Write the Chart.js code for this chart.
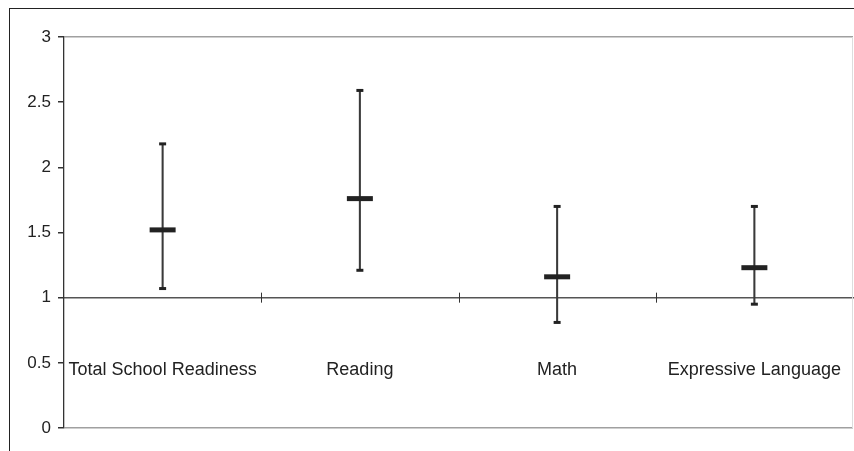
<!DOCTYPE html>
<html>
<head>
<meta charset="utf-8">
<script src="https://cdn.jsdelivr.net/npm/chart.js@4.4.1/dist/chart.umd.min.js"></script>
<style>
    html, body { margin: 0; padding: 0; background: #fff; }
    #wrap { position: relative; width: 854px; height: 451px; overflow: hidden; }
    #frame { position: absolute; left: 9px; top: 8px; right: -4px; bottom: -4px;
             border-left: 1.5px solid #222; border-top: 1.5px solid #222; }
    #c { position: absolute; left: 0; top: 0; }
</style>
</head>
<body>
<div id="wrap">
    <div id="frame"></div>
    <canvas id="c" width="854" height="451"></canvas>
</div>
<script>
// Categories and values
const categories = ['Total School Readiness', 'Reading', 'Math', 'Expressive Language'];
const means = [1.52, 1.76, 1.16, 1.23];
const upper = [2.18, 2.59, 1.70, 1.70];
const lower = [1.07, 1.21, 0.81, 0.95];
const yMin = 0;
const yMax = 3;
const yStep = 0.5;

const ink = '#222';

// Tick marks crossing the x axis between categories, plus the faint right edge of the plot
const axisDecor = {
    id: 'axisDecor',
    afterDraw(chart) {
        const x = chart.scales.x;
        const y = chart.scales.y;
        const area = chart.chartArea;
        const ctx = chart.ctx;
        const yy = y.getPixelForValue(1);
        ctx.save();
        ctx.strokeStyle = '#333';
        ctx.lineWidth = 1;
        for (let i = 1; i < categories.length; i++) {
            const xx = Math.round(x.getPixelForValue(i - 0.5)) + 0.5;
            ctx.beginPath();
            ctx.moveTo(xx, yy - 5);
            ctx.lineTo(xx, yy + 5);
            ctx.stroke();
        }
        ctx.strokeStyle = '#ddd';
        ctx.beginPath();
        ctx.moveTo(area.right - 0.5, area.top);
        ctx.lineTo(area.right - 0.5, area.bottom);
        ctx.stroke();
        ctx.restore();
    }
};

new Chart(document.getElementById('c'), {
    type: 'bar',
    data: {
        labels: categories,
        datasets: [
            {
                label: 'Range',
                data: categories.map((c, i) => [lower[i], upper[i]]),
                backgroundColor: '#3a3a3a',
                barThickness: 1.4,
                order: 3
            },
            {
                type: 'line',
                label: 'Upper',
                data: upper,
                showLine: false,
                pointStyle: 'line',
                pointRadius: 3.5,
                pointBorderWidth: 3,
                borderColor: ink,
                order: 1
            },
            {
                type: 'line',
                label: 'Lower',
                data: lower,
                showLine: false,
                pointStyle: 'line',
                pointRadius: 3.5,
                pointBorderWidth: 3,
                borderColor: ink,
                order: 1
            },
            {
                type: 'line',
                label: 'Mean',
                data: means,
                showLine: false,
                pointStyle: 'line',
                pointRadius: 13,
                pointBorderWidth: 5,
                borderColor: ink,
                order: 0
            }
        ]
    },
    options: {
        responsive: false,
        animation: false,
        layout: {
            autoPadding: false,
            padding: { top: 37, bottom: 23, left: 0, right: 1 }
        },
        plugins: {
            legend: { display: false },
            tooltip: { enabled: false }
        },
        scales: {
            x: {
                type: 'category',
                offset: true,
                position: { y: 1 },
                afterFit(scale) {
                    scale.height = 0;
                    scale.paddingLeft = 0;
                    scale.paddingRight = 0;
                },
                grid: {
                    display: false
                },
                border: {
                    display: true,
                    color: '#555',
                    width: 1.5
                },
                ticks: {
                    padding: 54,
                    color: ink,
                    maxRotation: 0,
                    autoSkip: false,
                    font: { family: '"Liberation Sans", Arial, sans-serif', size: 18 }
                }
            },
            y: {
                min: yMin,
                max: yMax,
                afterFit(scale) { scale.width = 64; },
                grid: {
                    color: ctx => (ctx.tick.value === yMin || ctx.tick.value === yMax) ? '#a0a0a0' : 'rgba(0,0,0,0)',
                    tickColor: '#333',
                    tickLength: 6,
                    lineWidth: 1.5
                },
                border: {
                    color: '#333',
                    width: 1.3
                },
                ticks: {
                    stepSize: yStep,
                    padding: 7,
                    color: ink,
                    callback: v => String(v),
                    font: { family: '"Liberation Sans", Arial, sans-serif', size: 17 }
                }
            }
        }
    },
    plugins: [axisDecor]
});
</script>
</body>
</html>
